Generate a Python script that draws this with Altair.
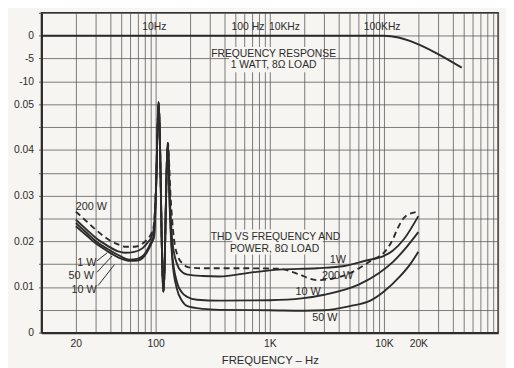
import altair as alt
import pandas as pd

# ---------------- data ----------------
# THD curves (frequency in Hz, THD value on the lower scale)
f_1w = [20, 25, 30, 38, 47, 54, 65, 77, 85, 92, 96, 101, 106, 117, 128, 133, 140, 154, 170, 190, 260, 360, 700, 1200, 2600, 4500, 7000, 10000, 12000, 15000, 20000]
thd_1w = [.0247, .0225, .0207, .019, .0178, .0175, .0177, .0185, .0197, .021, .0225, .032, .0505, .009, .0415, .03, .02, .015, .0133, .0127, .0124, .0123, .0132, .0138, .0141, .0146, .0158, .0168, .018, .0205, .0255]

f_10w = [20, 25, 30, 38, 47, 60, 70, 80, 88, 93, 97, 101, 106, 117, 128, 133, 140, 154, 170, 190, 230, 360, 1000, 1900, 3000, 6000, 9000, 12000, 15500, 20000]
thd_10w = [.0233, .0212, .0195, .0178, .0165, .0157, .0158, .0168, .0185, .0198, .021, .032, .0505, .009, .0415, .028, .017, .011, .0088, .0078, .0072, .007, .0071, .0075, .0083, .0105, .013, .0155, .0185, .022]

f_50w = [20, 25, 30, 38, 47, 59, 70, 80, 88, 93, 97, 101, 106, 117, 128, 133, 140, 154, 170, 190, 260, 360, 1000, 2000, 3000, 5000, 7600, 10000, 13800, 17000, 20000]
thd_50w = [.024, .0218, .02, .0183, .017, .016, .0162, .0172, .019, .0203, .0215, .032, .0505, .009, .0415, .027, .016, .0095, .007, .0058, .0052, .005, .0049, .0048, .0049, .0058, .007, .009, .0123, .015, .0177]

f_200w = [20, 25, 30, 38, 47, 55, 65, 77, 85, 92, 96, 101, 106, 117, 128, 135, 144, 158, 175, 195, 260, 500, 1200, 1700, 2600, 3500, 5000, 8000, 10000, 12000, 13000, 15500, 20000]
thd_200w = [.0265, .0243, .0225, .0205, .0193, .0188, .0188, .0195, .0205, .0218, .0232, .033, .0505, .009, .0415, .03, .021, .0165, .015, .0143, .0141, .0141, .014, .013, .0115, .0118, .013, .016, .0175, .0205, .0225, .0255, .0265]

# Frequency response (dB), drawn on the upper scale
fr_freq = [10, 1000, 10000, 13400, 17100, 28700, 48000]
fr_db = [0, 0, 0, -0.4, -1.2, -3.8, -7]

# axis ticks
x_grid = [k * 10 ** n for n in range(1, 5) for k in range(1, 10)] + [100000]
x_label_vals = [20, 100, 1000, 10000, 20000]
x_label_txt = ["20", "100", "1K", "10K", "20K"]
y_grid = [round(i * 0.005, 3) for i in range(15)]
y_label_vals = [0, 0.01, 0.02, 0.03, 0.04, 0.05, 0.055, 0.06, 0.065]
y_label_txt = ["0", "0.01", "0.02", "0.03", "0.04", "0.05", "-10", "-5", "0"]

# annotations
note_txt = ["10Hz", "100 Hz", "10KHz", "100KHz",
            "FREQUENCY RESPONSE", "1 WATT, 8Ω LOAD",
            "THD VS FREQUENCY AND", "POWER, 8Ω LOAD"]
note_f = [97.6, 644, 1345, 9640, 1080, 1080, 1120, 1100]
note_v = [0.0668, 0.0668, 0.0668, 0.0668, 0.0609, 0.0585, 0.0210, 0.0184]

lab_txt = ["200 W", "1 W", "50 W", "10 W", "1W", "200 W", "10 W", "50 W"]
lab_f = [27.3, 25.0, 22.3, 23.6, 3950, 3920, 2170, 3040]
lab_v = [0.0274, 0.0153, 0.0124, 0.0094, 0.0158, 0.0124, 0.0089, 0.0031]

lead_f0 = [30.6, 30.6, 31.3]
lead_f1 = [37.7, 41.6, 43.6]
lead_v0 = [0.0157, 0.0132, 0.0103]
lead_v1 = [0.0175, 0.0168, 0.0149]

box_f0 = [440, 470]
box_f1 = [2800, 2900]
box_v0 = [0.0570, 0.0171]
box_v1 = [0.0625, 0.0226]

# ---------------- tables ----------------
rows = []
for name, fs, vs in [("1 W", f_1w, thd_1w), ("10 W", f_10w, thd_10w),
                     ("50 W", f_50w, thd_50w), ("200 W", f_200w, thd_200w)]:
    for f, v in zip(fs, vs):
        rows.append({"f": f, "v": v, "series": name})
thd = pd.DataFrame(rows)
fr = pd.DataFrame({"f": fr_freq, "db": fr_db})
notes = pd.DataFrame({"f": note_f, "v": note_v, "t": note_txt})
labs = pd.DataFrame({"f": lab_f, "v": lab_v, "t": lab_txt})
leads = pd.DataFrame({"f": lead_f0, "f1": lead_f1, "v": lead_v0, "v1": lead_v1})
boxes = pd.DataFrame({"f": box_f0, "f1": box_f1, "v": box_v0, "v1": box_v1})


def label_expr(vals, txts):
    e = "''"
    for val, t in reversed(list(zip(vals, txts))):
        e = f"abs(datum.value - {val}) < 1e-7 ? '{t}' : ({e})"
    return e


INK = "#2b2b2b"
GRID = "#5a5a5a"
FONT = "Liberation Sans"

X = alt.X("f:Q",
          scale=alt.Scale(type="log", domain=[10, 100000], nice=False),
          axis=alt.Axis(values=x_grid, labelExpr=label_expr(x_label_vals, x_label_txt),
                        title="FREQUENCY – Hz", tickSize=0, labelPadding=6,
                        labelFontSize=10.5, titleFontSize=11.5, titleFontWeight="normal",
                        titlePadding=6, labelOverlap=False, labelFlush=False))
Y = alt.Y("v:Q",
          scale=alt.Scale(domain=[0, 0.07], nice=False, zero=False),
          axis=alt.Axis(values=y_grid, labelExpr=label_expr(y_label_vals, y_label_txt),
                        title=None, tickSize=3, labelPadding=5, labelFontSize=10.5,
                        labelOverlap=False))

box_layer = alt.Chart(boxes).mark_rect(color="#f6f5f1").encode(x=X, x2="f1:Q", y=Y, y2="v1:Q")

solid = alt.Chart(thd).transform_filter("datum.series != '200 W'").mark_line(
    color=INK, strokeWidth=1.9, interpolate="monotone").encode(x=X, y=Y, detail="series:N")
dashed = alt.Chart(thd).transform_filter("datum.series == '200 W'").mark_line(
    color=INK, strokeWidth=1.9, strokeDash=[6, 4], interpolate="monotone").encode(x=X, y=Y)

fr_layer = alt.Chart(fr).transform_calculate(v="0.065 + datum.db / 1000").mark_line(
    color=INK, strokeWidth=2, interpolate="monotone").encode(x=X, y=Y)

lead_layer = alt.Chart(leads).mark_rule(color=INK, strokeWidth=1).encode(x=X, x2="f1:Q", y=Y, y2="v1:Q")

note_layer = alt.Chart(notes).mark_text(font=FONT, fontSize=10.5, color=INK).encode(x=X, y=Y, text="t:N")
lab_layer = alt.Chart(labs).mark_text(font=FONT, fontSize=11, color=INK).encode(x=X, y=Y, text="t:N")

chart = alt.layer(box_layer, solid, dashed, fr_layer, lead_layer, note_layer, lab_layer).properties(
    width=464, height=325,
    padding={"left": 34, "top": 2, "right": 8, "bottom": 33},
    autosize=alt.AutoSizeParams(type="none"),
    background="#f6f5f1",
).configure_view(stroke=INK, strokeWidth=1.5).configure_axis(
    grid=True, gridColor=GRID, gridWidth=0.8, gridOpacity=1,
    domainColor=INK, domainWidth=2, tickColor=GRID,
    labelColor=INK, titleColor=INK, labelFont=FONT, titleFont=FONT,
)

chart.save("out.html", embed_options={"renderer": "svg", "actions": False})
